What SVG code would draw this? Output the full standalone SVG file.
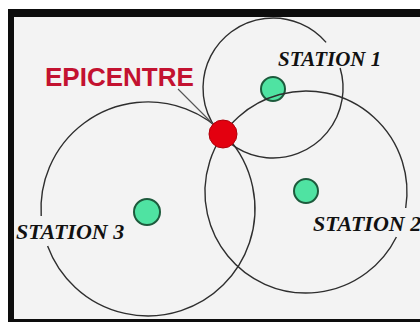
<svg xmlns="http://www.w3.org/2000/svg" width="420" height="322" viewBox="0 0 420 322">
  <style>
    .ring { fill: none; stroke: #2e2e2e; stroke-width: 1.4; }
    .stn { fill: #4fe3a2; stroke: #1d5a3c; stroke-width: 2; }
    .lbl { font-family: "Liberation Serif", "Times New Roman", serif; font-weight: bold; font-style: italic; fill: #111; }
    .epi { font-family: "Liberation Sans", Arial, sans-serif; font-weight: bold; font-size: 26px; fill: #c31230; }
    .lead { stroke: #555; stroke-width: 1.1; fill: none; }
  </style>
  <rect x="8" y="9" width="412" height="313" fill="#0d0d0d"/>
  <rect x="14" y="17" width="406" height="302" fill="#f3f3f3"/>

  <g id="station1">
    <path class="ring" d="M340.1,68 A70,70 0 1 1 326.1,42.4"/>
    <circle class="stn" cx="273" cy="89" r="12"/>
    <text class="lbl" x="278" y="66" font-size="21">STATION 1</text>
  </g>
  <g id="station2">
    <path class="ring" d="M396.4,237 A101,101 0 1 1 405.7,208"/>
    <circle class="stn" cx="306" cy="191" r="12"/>
    <text class="lbl" x="313" y="231" font-size="22">STATION 2</text>
  </g>
  <g id="station3">
    <path class="ring" d="M41.2,216 A107,107 0 1 1 47.6,246"/>
    <circle class="stn" cx="147" cy="212" r="13"/>
    <text class="lbl" x="16" y="239" font-size="22">STATION 3</text>
  </g>

  <g id="connectors">
    <line class="lead" x1="178" y1="89" x2="214" y2="125"/>
  </g>

  <g id="epicentre">
    <circle cx="223" cy="134" r="14" fill="#e3000f" stroke="#b0000a" stroke-width="1"/>
    <text class="epi" x="45" y="86">EPICENTRE</text>
  </g>
</svg>
